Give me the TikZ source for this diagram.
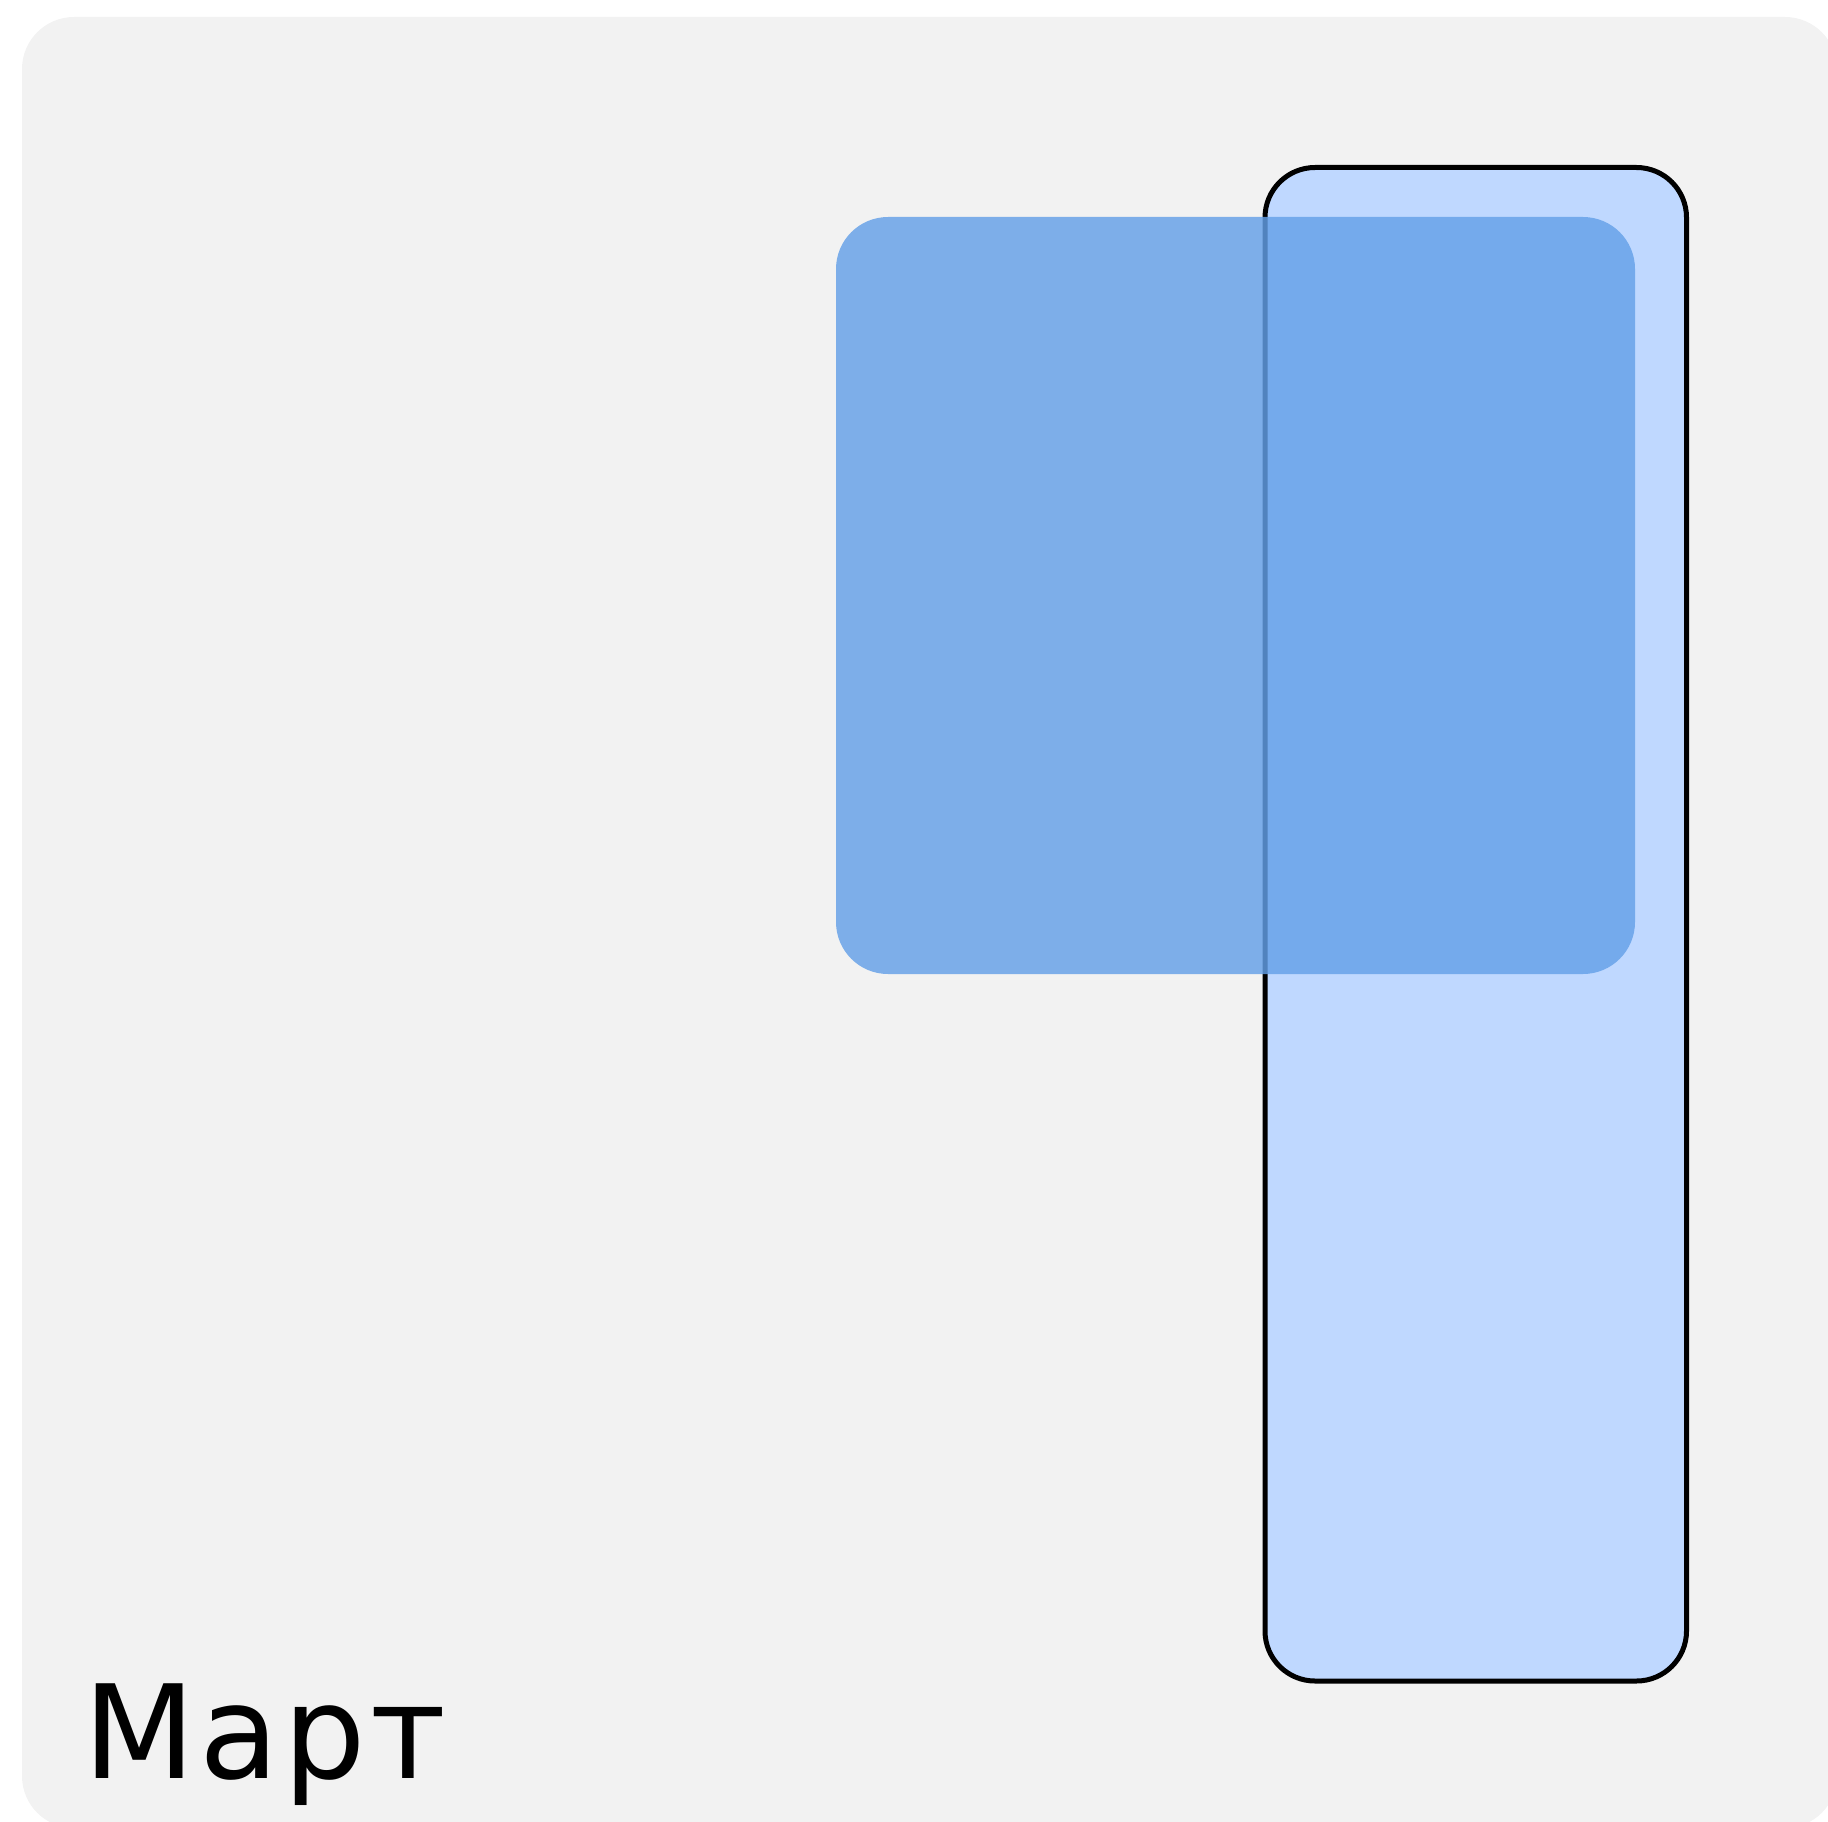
\documentclass[tikz,border=0pt]{standalone}
\usepackage{fontspec}
\setmainfont{DejaVu Sans}
\newfontfamily\monthfont[LetterSpace=3.3]{DejaVu Sans}
\definecolor{bgcol}{RGB}{242,242,242}
\definecolor{lightbox}{RGB}{191,216,255}
\definecolor{midblue}{RGB}{100,160,232}
\begin{document}
\begin{tikzpicture}[x=1pt,y=-1pt,
  bgpanel/.style={fill=bgcol,rounded corners=52pt},
  tallbox/.style={fill=lightbox,draw=black,line width=5pt,rounded corners=50pt},
  bluebox/.style={fill=midblue,fill opacity=0.82,rounded corners=52pt},
  label/.style={inner sep=0pt,anchor=base west,font=\monthfont\fontsize{130}{140}\selectfont}]
\useasboundingbox (0,0) rectangle (1828,1822);
\clip (0,0) rectangle (1828,1822);
\fill[bgpanel] (22,17) rectangle (1837,1828);
\path[tallbox] (1265,167.5) rectangle (1686.5,1681);
\fill[bluebox] (836,217) rectangle (1635,974);
\node[label] (month) at (83,1778) {Март};
\end{tikzpicture}
\end{document}
